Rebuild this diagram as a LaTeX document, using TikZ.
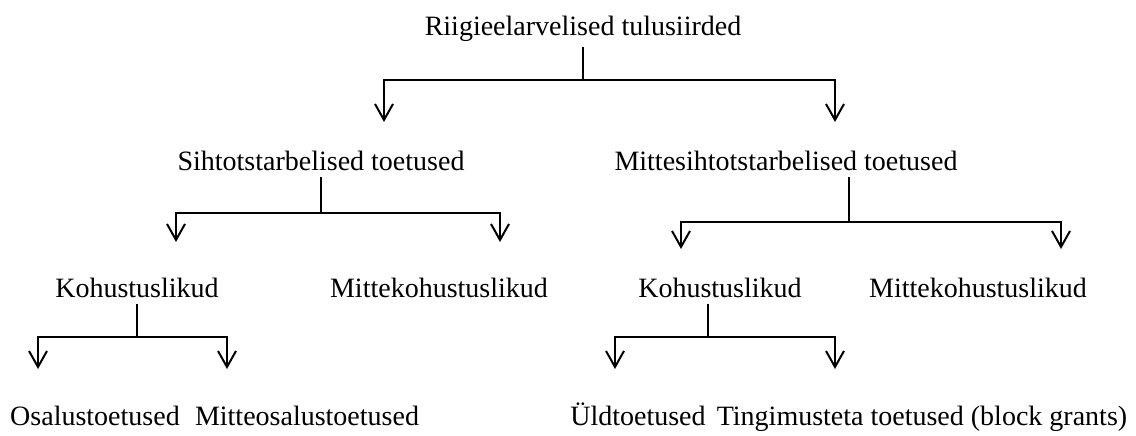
\documentclass[tikz,border=0pt]{standalone}
\usepackage{fontspec}
\setmainfont{Liberation Serif}
\usetikzlibrary{arrows.meta, positioning}

\begin{document}
\begin{tikzpicture}[x=0.5pt, y=-0.5pt,
    lbl/.style={inner xsep=0pt, inner ysep=3pt, anchor=base, font=\fontsize{14}{17}\selectfont},
    stem/.style={line width=1pt},
    branch/.style={line width=1pt, {Straight Barb[length=8pt, width=9pt]}-{Straight Barb[length=8pt, width=9pt]}}]
\useasboundingbox (0,0) rectangle (1136,435);

% Level 1
\node[lbl] (root) at (583,35) {Riigieelarvelised tulusiirded};

% Level 2
\node[lbl] (siht) at (321,170) {Sihtotstarbelised toetused};
\node[lbl] (msiht) at (786,170) {Mittesihtotstarbelised toetused};

% Level 3
\node[lbl] (koh1) at (137,297) {Kohustuslikud};
\node[lbl] (mkoh1) at (439,297) {Mittekohustuslikud};
\node[lbl] (koh2) at (720,297) {Kohustuslikud};
\node[lbl] (mkoh2) at (978,297) {Mittekohustuslikud};

% Level 4
\node[lbl] (osa) at (95,425) {Osalustoetused};
\node[lbl] (mosa) at (307,425) {Mitteosalustoetused};
\node[lbl] (yld) at (638,425) {Üldtoetused};
\node[lbl] (ting) at (922,425) {Tingimusteta toetused (block grants)};

% Junctions and arrow ends
\coordinate (r0) at (583,80);
\coordinate (ra) at (384,122);
\coordinate (rb) at (835,122);
\coordinate (s0) at (321,213);
\coordinate (sa) at (176,242);
\coordinate (sb) at (500,242);
\coordinate (m0) at (849,222);
\coordinate (ma) at (681,249);
\coordinate (mb) at (1061,249);
\coordinate (k0) at (137,337);
\coordinate (ka) at (38,369);
\coordinate (kb) at (227,369);
\coordinate (q0) at (708,337);
\coordinate (qa) at (615,369);
\coordinate (qb) at (835,369);

% Connectors
\draw[stem] (root.south -| r0) -- (r0);
\draw[branch] (ra) |- (r0) -| (rb);
\draw[stem] (siht.south -| s0) -- (s0);
\draw[branch] (sa) |- (s0) -| (sb);
\draw[stem] (msiht.south -| m0) -- (m0);
\draw[branch] (ma) |- (m0) -| (mb);
\draw[stem] (koh1.south -| k0) -- (k0);
\draw[branch] (ka) |- (k0) -| (kb);
\draw[stem] (koh2.south -| q0) -- (q0);
\draw[branch] (qa) |- (q0) -| (qb);
\end{tikzpicture}
\end{document}
